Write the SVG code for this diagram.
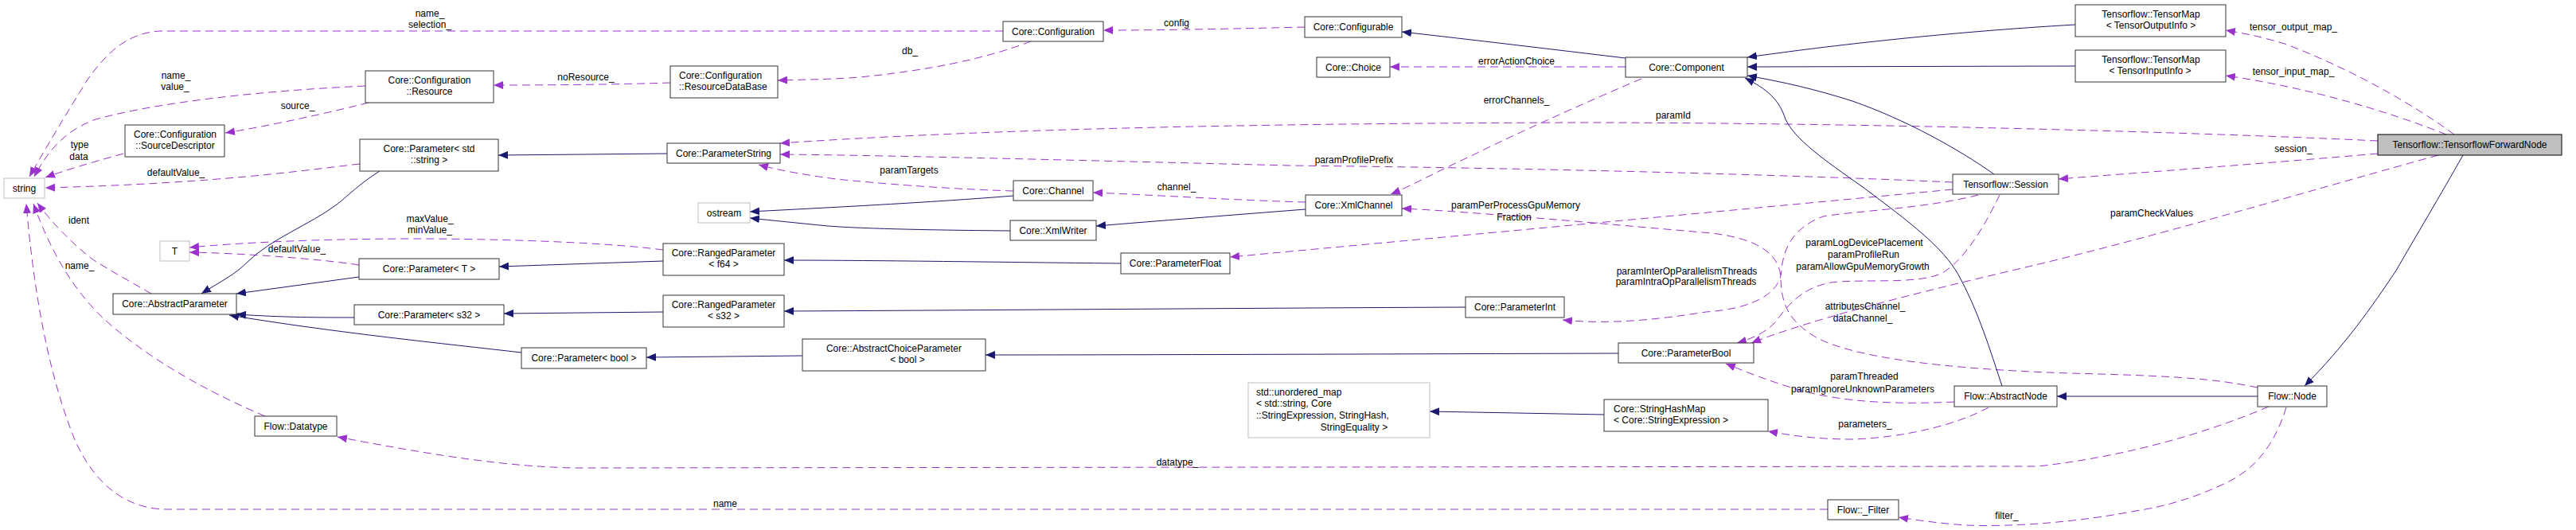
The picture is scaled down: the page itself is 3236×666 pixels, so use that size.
<svg xmlns="http://www.w3.org/2000/svg" width="3236" height="666" viewBox="0 0 3236 666">
<style>
rect{fill:#fff;stroke:#333;stroke-width:1}
.g rect{stroke:#bfbfbf}
.cur rect{fill:#bfbfbf;stroke:#000}
text{font-family:"Liberation Sans",Arial,sans-serif;font-size:12px;fill:#000}
.c{text-anchor:middle}
.u{fill:none;stroke:#9a32cd;stroke-width:1;stroke-dasharray:10,6;marker-end:url(#ap)}
.i{fill:none;stroke:#191970;stroke-width:1;marker-end:url(#ai)}
</style>
<defs>
<marker id="ap" viewBox="0 0 12 10" refX="12" refY="5" markerWidth="12" markerHeight="10" markerUnits="userSpaceOnUse" orient="auto"><path d="M0,0 L12,5 L0,10 Z" fill="#9a32cd"/></marker>
<marker id="ai" viewBox="0 0 12 10" refX="12" refY="5" markerWidth="12" markerHeight="10" markerUnits="userSpaceOnUse" orient="auto"><path d="M0,0 L12,5 L0,10 Z" fill="#191970"/></marker>
</defs>
<rect x="0" y="0" width="3236" height="666" style="fill:#fff;stroke:none"/>
<g id="connectors">
<path class="u" d="M1260,39 L200,39 C160,42 135,65 110,100 C85,140 55,190 37,222"/>
<path class="u" d="M459,108 C330,114 200,128 120,150 C80,165 60,190 43,222"/>
<path class="u" d="M155,193 C130,200 90,211 57,223"/>
<path class="u" d="M463,129 C420,140 340,158 283,167"/>
<path class="u" d="M452,206 C380,214 280,230 57,236"/>
<path class="u" d="M190,369 C160,352 130,335 115,325 C90,305 65,280 47,255"/>
<path class="u" d="M333,523 C250,488 180,445 133,403 C95,368 65,320 42,256"/>
<path class="u" d="M2296,640 L210,640 C160,640 120,610 95,555 C70,495 45,400 33,256"/>
<path class="u" d="M833,314 C750,303 600,300 523,300 C400,300 300,305 238,311"/>
<path class="u" d="M451,333 C400,325 300,318 238,317"/>
<path class="u" d="M842,104 C780,106 700,107 620,107"/>
<path class="u" d="M1295,52 C1260,65 1200,85 1080,97 C1040,100 1010,100 977,101"/>
<path class="u" d="M1639,34 C1560,36 1460,38 1386,38"/>
<path class="u" d="M2042,84 L1746,84"/>
<path class="u" d="M2062,99 C2000,125 1900,170 1850,195 C1800,218 1770,235 1747,244"/>
<path class="u" d="M2987,177 C2800,168 2400,155 2000,154 C1500,155 1200,165 980,180"/>
<path class="u" d="M2453,229 C2300,222 2000,212 1620,208 C1300,200 1100,195 980,194"/>
<path class="u" d="M1273,240 C1180,237 1100,230 1050,225 C1000,218 975,213 953,207"/>
<path class="u" d="M1640,254 C1560,252 1450,245 1373,242"/>
<path class="u" d="M2453,238 C2200,262 1900,290 1545,323"/>
<path class="u" d="M2836,487 C2780,475 2720,472 2600,469 C2450,464 2320,450 2275,420 C2245,400 2238,380 2237,350 C2236,320 2210,300 2150,293 C2000,280 1850,266 1761,262"/>
<path class="u" d="M2485,245 C2420,262 2330,265 2290,272 C2255,285 2240,310 2238,340 C2236,370 2200,388 2143,392 C2080,402 2020,408 1963,402"/>
<path class="u" d="M2512,245 C2495,280 2470,325 2440,343 C2410,358 2340,350 2300,355 C2262,362 2245,385 2230,405 C2218,418 2200,426 2182,431"/>
<path class="u" d="M3063,195 C2900,240 2700,300 2527,340 C2400,370 2280,400 2200,431"/>
<path class="u" d="M2455,505 C2393,508 2320,507 2260,490 C2220,478 2195,468 2168,457"/>
<path class="u" d="M2498,512 C2460,533 2393,550 2327,552 C2280,552 2250,547 2221,542"/>
<path class="u" d="M2850,511 C2800,532 2700,570 2560,586 L720,588 C640,586 560,575 424,549"/>
<path class="u" d="M2872,512 C2860,550 2840,585 2800,605 C2770,620 2730,635 2683,642 C2600,658 2520,662 2470,660 C2440,658 2410,654 2385,650"/>
<path class="u" d="M2987,193 C2850,205 2700,216 2586,225"/>
<path class="u" d="M3083,169 C3030,130 2950,85 2870,55 C2840,46 2820,42 2796,38"/>
<path class="u" d="M3073,169 C3000,140 2900,110 2796,95"/>
<path class="i" d="M477,215 C450,232 435,248 423,257 C390,282 340,300 310,330 C295,345 280,352 253,369"/>
<path class="i" d="M451,348 L297,369"/>
<path class="i" d="M445,399 C400,399 360,399 297,395"/>
<path class="i" d="M655,443 C560,432 420,418 288,396"/>
<path class="i" d="M838,193 L626,195"/>
<path class="i" d="M833,328 L627,335"/>
<path class="i" d="M833,392 L633,394"/>
<path class="i" d="M1008,447 L812,449"/>
<path class="i" d="M1408,331 C1300,330 1100,327 985,327"/>
<path class="i" d="M1841,386 C1600,387 1200,390 985,391"/>
<path class="i" d="M2033,444 C1700,445 1400,446 1238,446"/>
<path class="i" d="M1273,246 C1200,252 1100,258 942,266"/>
<path class="i" d="M1269,290 C1150,289 1080,287 1040,284 C1000,280 970,277 942,274"/>
<path class="i" d="M1640,263 C1550,270 1450,278 1377,284"/>
<path class="i" d="M2042,73 C1950,62 1850,50 1761,40"/>
<path class="i" d="M2607,31 C2450,40 2300,57 2195,72"/>
<path class="i" d="M2607,83 L2195,84"/>
<path class="i" d="M2505,219 C2460,187 2393,150 2327,127 C2280,112 2240,103 2195,95"/>
<path class="i" d="M2515,485 C2500,440 2485,390 2460,345 C2440,310 2400,280 2340,235 C2290,200 2255,175 2243,150 C2235,125 2220,112 2192,98"/>
<path class="i" d="M2836,498 L2584,498"/>
<path class="i" d="M3094,195 C3067,243 3033,300 3010,340 C2980,385 2945,435 2895,485"/>
<path class="i" d="M2015,521 L1796,517"/>
<g class="c">
<text x="540" y="21">name_</text><text x="540" y="35">selection_</text>
<text x="221" y="99">name_</text><text x="220" y="113">value_</text>
<text x="100" y="186">type</text><text x="99" y="201">data</text>
<text x="374" y="137">source_</text>
<text x="221" y="221">defaultValue_</text>
<text x="99" y="281">ident</text>
<text x="100" y="338">name_</text>
<text x="540" y="279">maxValue_</text><text x="540" y="293">minValue_</text>
<text x="373" y="317">defaultValue_</text>
<text x="736" y="101">noResource_</text>
<text x="1143" y="68">db_</text>
<text x="1478" y="33">config</text>
<text x="1905" y="81">errorActionChoice</text>
<text x="1905" y="130">errorChannels_</text>
<text x="2102" y="149">paramId</text>
<text x="1701" y="205">paramProfilePrefix</text>
<text x="1142" y="218">paramTargets</text>
<text x="1478" y="239">channel_</text>
<text x="1904" y="262">paramPerProcessGpuMemory</text><text x="1902" y="277">Fraction</text>
<text x="2119" y="345">paramInterOpParallelismThreads</text><text x="2118" y="358">paramIntraOpParallelismThreads</text>
<text x="2342" y="309">paramLogDevicePlacement</text><text x="2341" y="324">paramProfileRun</text><text x="2340" y="339">paramAllowGpuMemoryGrowth</text>
<text x="2343" y="389">attributesChannel_</text><text x="2340" y="404">dataChannel_</text>
<text x="2342" y="477">paramThreaded</text><text x="2340" y="493">paramIgnoreUnknownParameters</text>
<text x="2343" y="537">parameters_</text>
<text x="1479" y="585">datatype_</text>
<text x="911" y="637">name</text>
<text x="2521" y="652">filter_</text>
<text x="2703" y="272">paramCheckValues</text>
<text x="2881" y="191">session_</text>
<text x="2881" y="38">tensor_output_map_</text>
<text x="2881" y="94">tensor_input_map_</text>
</g>
</g>
<g id="n_string" class="g"><rect x="5" y="224" width="51" height="25"/><text class="c" x="30.5" y="240.5">string</text></g>
<g id="n_sourcedescriptor"><rect x="157" y="157" width="125" height="40"/><text class="c" x="220" y="172.5">Core::Configuration</text><text class="c" x="220" y="187">::SourceDescriptor</text></g>
<g id="n_resource"><rect x="459" y="89" width="161" height="40"/><text class="c" x="539.5" y="104.5">Core::Configuration</text><text class="c" x="539.5" y="119">::Resource</text></g>
<g id="n_param_string"><rect x="452" y="175" width="174" height="40"/><text class="c" x="539" y="190.5">Core::Parameter&lt; std</text><text class="c" x="539" y="205">::string &gt;</text></g>
<g id="n_T" class="g"><rect x="201" y="303" width="37" height="25"/><text class="c" x="219.5" y="319.5">T</text></g>
<g id="n_param_T"><rect x="451" y="325" width="176" height="26"/><text class="c" x="539" y="342">Core::Parameter&lt; T &gt;</text></g>
<g id="n_abstractparameter"><rect x="142" y="369" width="155" height="26"/><text class="c" x="219.5" y="386">Core::AbstractParameter</text></g>
<g id="n_param_s32"><rect x="445" y="383" width="188" height="25"/><text class="c" x="539" y="400">Core::Parameter&lt; s32 &gt;</text></g>
<g id="n_param_bool"><rect x="655" y="437" width="157" height="26"/><text class="c" x="733.5" y="454">Core::Parameter&lt; bool &gt;</text></g>
<g id="n_datatype"><rect x="320" y="523" width="103" height="25"/><text class="c" x="371.5" y="540">Flow::Datatype</text></g>
<g id="n_configuration"><rect x="1260" y="27" width="126" height="25"/><text class="c" x="1323" y="43.5">Core::Configuration</text></g>
<g id="n_resourcedatabase"><rect x="842" y="83" width="135" height="40"/><text x="853" y="98.5">Core::Configuration</text><text x="853" y="113">::ResourceDataBase</text></g>
<g id="n_parameterstring"><rect x="838" y="180" width="142" height="25"/><text class="c" x="909" y="197">Core::ParameterString</text></g>
<g id="n_ostream" class="g"><rect x="877" y="255" width="65" height="25"/><text class="c" x="909.5" y="272">ostream</text></g>
<g id="n_ranged_f64"><rect x="833" y="306" width="152" height="40"/><text class="c" x="909" y="321.5">Core::RangedParameter</text><text class="c" x="909" y="336">&lt; f64 &gt;</text></g>
<g id="n_ranged_s32"><rect x="833" y="371" width="152" height="40"/><text class="c" x="909" y="386.5">Core::RangedParameter</text><text class="c" x="909" y="401">&lt; s32 &gt;</text></g>
<g id="n_abstractchoice"><rect x="1008" y="426" width="230" height="40"/><text class="c" x="1123" y="441.5">Core::AbstractChoiceParameter</text><text class="c" x="1140" y="456">&lt; bool &gt;</text></g>
<g id="n_channel"><rect x="1273" y="227" width="100" height="25"/><text class="c" x="1323" y="244">Core::Channel</text></g>
<g id="n_xmlwriter"><rect x="1269" y="277" width="108" height="25"/><text class="c" x="1323" y="294">Core::XmlWriter</text></g>
<g id="n_parameterfloat"><rect x="1408" y="318" width="137" height="26"/><text class="c" x="1476.5" y="335">Core::ParameterFloat</text></g>
<g id="n_configurable"><rect x="1639" y="21" width="122" height="26"/><text class="c" x="1700" y="38">Core::Configurable</text></g>
<g id="n_choice"><rect x="1654" y="72" width="92" height="25"/><text class="c" x="1700" y="89">Core::Choice</text></g>
<g id="n_xmlchannel"><rect x="1640" y="245" width="121" height="26"/><text class="c" x="1700.5" y="262">Core::XmlChannel</text></g>
<g id="n_component"><rect x="2042" y="72" width="153" height="25"/><text class="c" x="2118.5" y="89">Core::Component</text></g>
<g id="n_parameterint"><rect x="1841" y="373" width="124" height="26"/><text class="c" x="1903" y="390">Core::ParameterInt</text></g>
<g id="n_parameterbool"><rect x="2033" y="431" width="170" height="25"/><text class="c" x="2118" y="448">Core::ParameterBool</text></g>
<g id="n_unordered_map" class="g"><rect x="1568" y="481" width="228" height="69"/><text x="1578" y="497">std::unordered_map</text><text x="1578" y="511">&lt; std::string, Core</text><text x="1578" y="526">::StringExpression, StringHash,</text><text class="c" x="1701" y="541">StringEquality &gt;</text></g>
<g id="n_stringhashmap"><rect x="2015" y="502" width="206" height="40"/><text x="2027" y="517.5">Core::StringHashMap</text><text x="2027" y="532">&lt; Core::StringExpression &gt;</text></g>
<g id="n_session"><rect x="2453" y="219" width="133" height="25"/><text class="c" x="2519.5" y="236">Tensorflow::Session</text></g>
<g id="n_abstractnode"><rect x="2455" y="485" width="129" height="26"/><text class="c" x="2519.5" y="502">Flow::AbstractNode</text></g>
<g id="n_filter"><rect x="2296" y="628" width="89" height="25"/><text class="c" x="2340.5" y="645">Flow::_Filter</text></g>
<g id="n_tensormap_out"><rect x="2607" y="6" width="189" height="40"/><text class="c" x="2702" y="21.5">Tensorflow::TensorMap</text><text class="c" x="2702" y="36">&lt; TensorOutputInfo &gt;</text></g>
<g id="n_tensormap_in"><rect x="2607" y="63" width="189" height="40"/><text class="c" x="2702" y="78.5">Tensorflow::TensorMap</text><text class="c" x="2701" y="93">&lt; TensorInputInfo &gt;</text></g>
<g id="n_forwardnode" class="cur"><rect x="2987" y="169" width="231" height="26"/><text class="c" x="3102.5" y="186">Tensorflow::TensorflowForwardNode</text></g>
<g id="n_flownode"><rect x="2836" y="485" width="87" height="26"/><text class="c" x="2879.5" y="502">Flow::Node</text></g>
</svg>
